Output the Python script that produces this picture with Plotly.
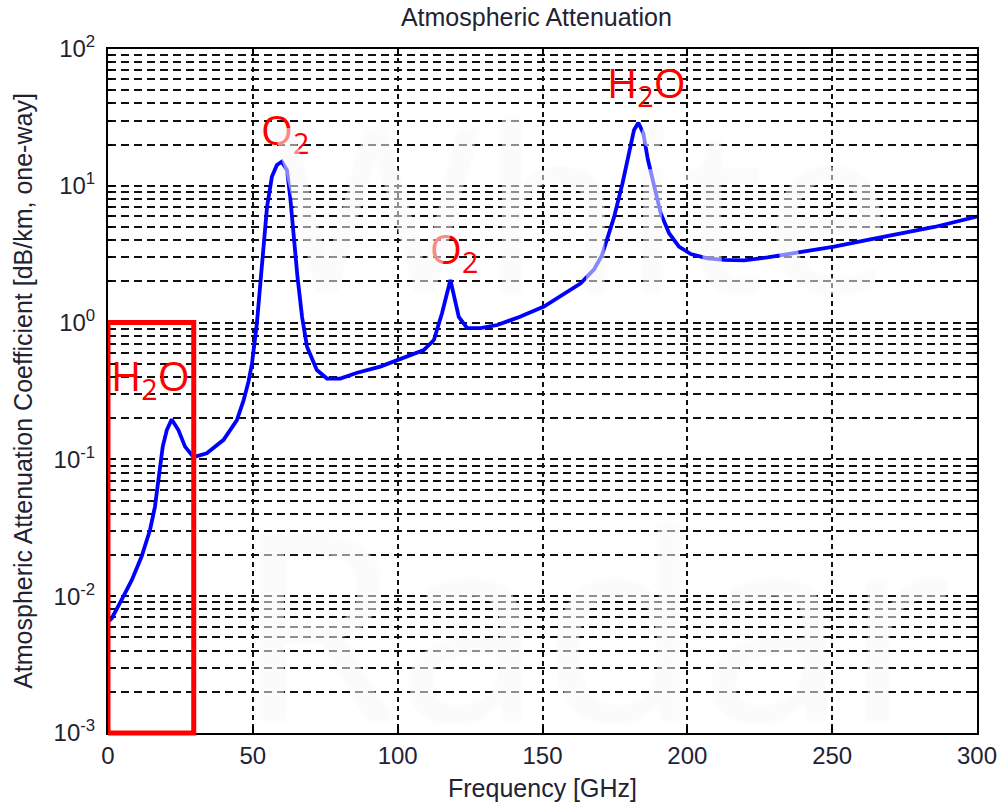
import plotly.graph_objects as go

# Attenuation curve: frequency [GHz] and one-way attenuation [dB/km]
freq_ghz = [0, 1.3, 4.1, 8.2, 11.6, 14.5, 16.2, 17.7, 18.9, 20.3, 22.0, 24.3, 26.6,
            29.5, 34.1, 39.9, 44.5, 46.8, 48.5, 49.7, 51.4, 52.5, 53.7, 54.9, 56.6,
            58.3, 60.0, 61.8, 62.9, 64.1, 65.4, 67.0, 68.7, 72.1, 75.6, 80.2, 86.0,
            94.0, 99.8, 109.0, 112.5, 115.3, 118.2, 121.1, 124.0, 128.6, 134.4,
            142.0, 150.5, 163.2, 167.8, 170.5, 172.5, 174.7, 177.6, 179.9, 181.6,
            183.1, 184.8, 186.4, 188.5, 190.8, 193.7, 197.1, 201.2, 206.9, 212.7,
            219.6, 227.7, 239.2, 250.7, 262.3, 273.8, 285.3, 300.0]
atten_db_km = [0.0065, 0.0069, 0.0089, 0.0131, 0.0195, 0.0305, 0.045, 0.075, 0.124,
               0.164, 0.196, 0.164, 0.124, 0.104, 0.111, 0.139, 0.194, 0.27, 0.37,
               0.50, 0.99, 1.83, 3.59, 7.0, 11.7, 14.2, 15.0, 13.0, 8.3, 4.25, 2.17,
               1.10, 0.667, 0.45, 0.39, 0.39, 0.43, 0.477, 0.533, 0.63, 0.746, 1.17,
               2.05, 1.10, 0.91, 0.91, 0.96, 1.10, 1.31, 1.94, 2.45, 3.1, 4.2, 5.9,
               10.4, 17.3, 25.6, 28.9, 24.2, 15.5, 9.8, 6.3, 4.5, 3.59, 3.17, 2.95,
               2.87, 2.85, 3.0, 3.30, 3.59, 4.02, 4.50, 5.0, 5.95]

# Axis ticks
x_ticks = [0, 50, 100, 150, 200, 250, 300]
y_tickvals = [1e-3, 1e-2, 1e-1, 1e0, 1e1, 1e2]
y_ticktext = ["10<sup>-3</sup>", "10<sup>-2</sup>", "10<sup>-1</sup>",
              "10<sup>0</sup>", "10<sup>1</sup>", "10<sup>2</sup>"]

# Absorption-line labels: (text, frequency, log10 of attenuation)
line_labels = [
    ("H<sub>2</sub>O", 14.5, -0.40),
    ("O<sub>2</sub>", 61.2, 1.40),
    ("O<sub>2</sub>", 119.6, 0.53),
    ("H<sub>2</sub>O", 185.8, 1.74),
]

# Highlighted band (GHz)
band_start, band_end = 0, 29.6

TEXT = "#222233"
GRID = "#111111"
FONT = "Liberation Sans, Arial, sans-serif"

fig = go.Figure()
fig.add_trace(go.Scatter(
    x=freq_ghz, y=atten_db_km, mode="lines",
    line=dict(color="#0000ff", width=3.8),
    showlegend=False, hoverinfo="skip",
))

fig.add_shape(type="rect", xref="x", yref="paper",
              x0=band_start, x1=band_end, y0=0, y1=0.6,
              line=dict(color="#ff0000", width=5), fillcolor="rgba(0,0,0,0)",
              layer="above")

annotations = []
for text, fx, ly in line_labels:
    annotations.append(dict(
        x=fx, y=ly, xref="x", yref="y", text=text, showarrow=False,
        xanchor="center", yanchor="middle",
        font=dict(family="Open Sans, sans-serif", size=41, color="#ff0000"),
    ))

# Watermark
for text, px, py, size in [("White", 0.545, 0.775, 230), ("Radar", 0.56, 0.165, 260)]:
    annotations.append(dict(
        x=px, y=py, xref="paper", yref="paper", text=text, showarrow=False,
        xanchor="center", yanchor="middle",
        font=dict(family="Open Sans, sans-serif", size=size,
                  color="rgba(255,255,255,0.5)",
                  shadow="0px 0px 3px rgba(160,160,160,0.18)"),
    ))

fig.update_layout(
    width=1000, height=806,
    margin=dict(l=108, r=23, t=49, b=73, autoexpand=False),
    paper_bgcolor="white", plot_bgcolor="white",
    font=dict(family=FONT, color=TEXT),
    title=dict(text="Atmospheric Attenuation", x=0.493, xref="paper",
               y=0.978, yanchor="middle", yref="container",
               font=dict(size=25, color=TEXT, family=FONT)),
    annotations=annotations,
    xaxis=dict(
        range=[0, 300], tickvals=x_ticks, ticks="inside", ticklen=7,
        tickcolor="black", tickwidth=1.5, automargin=False,
        showline=True, linecolor="black", linewidth=2, mirror="allticks",
        showgrid=True, gridcolor=GRID, gridwidth=1.6, griddash="5px,4px",
        zeroline=False, tickfont=dict(size=24, color=TEXT),
        title=dict(text="Frequency [GHz]", font=dict(size=25, color=TEXT), standoff=12),
    ),
    yaxis=dict(
        type="log", range=[-3, 2], tickvals=y_tickvals, ticktext=y_ticktext,
        ticks="inside", ticklen=7, tickcolor="black", tickwidth=1.5, automargin=False,
        showline=True, linecolor="black", linewidth=2, mirror="allticks",
        showgrid=True, gridcolor=GRID, gridwidth=1.6, griddash="8px,5px",
        zeroline=False, tickfont=dict(size=24, color=TEXT), ticklabelstandoff=6,
        minor=dict(dtick="D1", ticks="inside", ticklen=4, tickcolor="black",
                   showgrid=True, gridcolor=GRID, gridwidth=1.6, griddash="8px,5px"),
        title=dict(text="Atmospheric Attenuation Coefficient [dB/km, one-way]",
                   font=dict(size=25, color=TEXT), standoff=14),
    ),
)

fig.write_html("out.html")
